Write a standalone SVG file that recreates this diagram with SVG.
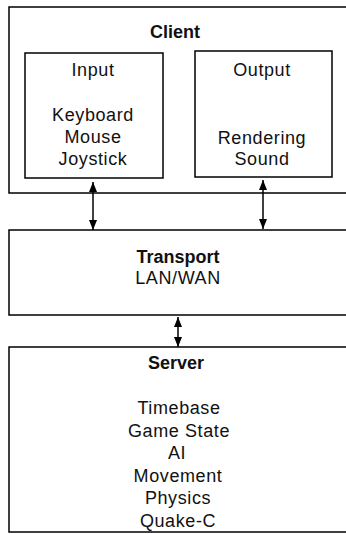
<svg xmlns="http://www.w3.org/2000/svg" width="346" height="534" viewBox="0 0 346 534">
<style>
.box{fill:none;stroke:#000;stroke-width:1.5}
.t{font-family:"Liberation Sans",Arial,sans-serif;font-size:18px;fill:#111;text-anchor:middle;letter-spacing:0.6px}
.b{font-weight:bold;letter-spacing:0}
.c{stroke:#000;stroke-width:1.5;fill:none}
</style>
<defs>
<marker id="ah" markerUnits="userSpaceOnUse" markerWidth="10" markerHeight="12" refX="10" refY="4" orient="auto-start-reverse" viewBox="0 0 10 8">
<path d="M0,0 L10,4 L0,8 Z" fill="#000"/>
</marker>
</defs>
<g id="client">
<rect class="box" x="9" y="7" width="345" height="186"/>
<text class="t b" x="175" y="38">Client</text>
</g>
<g id="input">
<rect class="box" x="25" y="53" width="138" height="125"/>
<text class="t" x="93" y="76">Input</text>
<text class="t" x="93" y="121">Keyboard</text>
<text class="t" x="93" y="143">Mouse</text>
<text class="t" x="93" y="165">Joystick</text>
</g>
<g id="output">
<rect class="box" x="195" y="51" width="137" height="126"/>
<text class="t" x="262" y="76">Output</text>
<text class="t" x="262" y="144">Rendering</text>
<text class="t" x="262" y="165">Sound</text>
</g>
<g id="transport">
<rect class="box" x="9" y="230" width="345" height="85"/>
<text class="t b" x="178" y="263">Transport</text>
<text class="t" x="178" y="284">LAN/WAN</text>
</g>
<g id="server">
<rect class="box" x="9" y="347" width="345" height="185"/>
<text class="t b" x="176" y="369">Server</text>
<text class="t" x="179" y="414">Timebase</text>
<text class="t" x="179" y="437">Game State</text>
<text class="t" x="177" y="459">AI</text>
<text class="t" x="178" y="482">Movement</text>
<text class="t" x="178" y="504">Physics</text>
<text class="t" x="178" y="527">Quake-C</text>
</g>
<g id="connectors">
<line class="c" x1="93" y1="182" x2="93" y2="230" marker-start="url(#ah)" marker-end="url(#ah)"/>
<line class="c" x1="263" y1="180" x2="263" y2="229" marker-start="url(#ah)" marker-end="url(#ah)"/>
<line class="c" x1="178" y1="317" x2="178" y2="347" marker-start="url(#ah)" marker-end="url(#ah)"/>
</g>
</svg>
